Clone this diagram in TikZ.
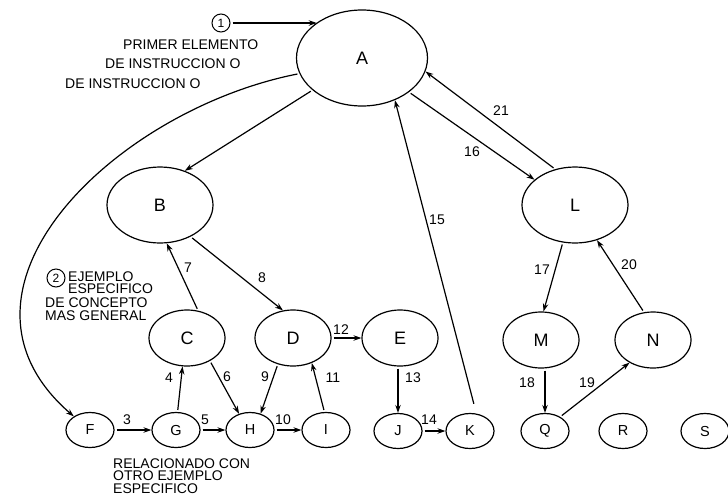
\documentclass[tikz,border=0pt]{standalone}
\usepackage{fontspec}
\setmainfont{Liberation Sans}
\usetikzlibrary{shapes.geometric,arrows.meta}
\begin{document}
\begin{tikzpicture}[x=1pt,y=-1pt,
  every node/.style={font=\fontsize{14}{14}\selectfont, inner sep=0pt},
  concept/.style={ellipse, draw, line width=1.2pt, font=\fontsize{18}{18}\selectfont},
  large/.style={concept, minimum width=131pt, minimum height=96pt},
  medium/.style={concept, minimum width=106pt, minimum height=76pt},
  small/.style={concept, minimum width=76pt, minimum height=56pt},
  leaf/.style={concept, minimum width=48pt, minimum height=35pt, font=\fontsize{14.5}{14.5}\selectfont},
  marker/.style={circle, draw, line width=1pt, minimum size=18pt, font=\fontsize{12}{12}\selectfont},
  note/.style={anchor=base west},
  link/.style={line width=1.2pt, -{Stealth[length=8pt,width=5.5pt]}, shorten <=2pt},
]
\useasboundingbox (0,0) rectangle (728,496);
\fill[white] (0,0) rectangle (728,496);

% concepts
\node[large]  (A) at (362,58)  {A};
\node[medium] (B) at (160,205) {B};
\node[medium] (L) at (575,205) {L};
\node[small]  (C) at (187,338) {C};
\node[small]  (D) at (293,338) {D};
\node[small]  (E) at (400,338) {E};
\node[small]  (M) at (541,340) {M};
\node[small]  (N) at (653,340) {N};
\node[leaf] (F) at (90,430)  {F};
\node[leaf] (G) at (176,430) {G};
\node[leaf] (H) at (250,430) {H};
\node[leaf] (I) at (326,430) {I};
\node[leaf] (J) at (398,431) {J};
\node[leaf] (K) at (470,431) {K};
\node[leaf] (Q) at (545,431) {Q};
\node[leaf] (R) at (623,431) {R};
\node[leaf] (S) at (705,431) {S};

% annotations
\node[marker] (m1) at (221,23) {1};
\node[note] (t1) at (123,49) {PRIMER ELEMENTO};
\node[note] (t2) at (105,68.5) {DE INSTRUCCION O};
\node[note] (t3) at (65,88) {DE INSTRUCCION O};

\node[marker] (m2) at (56,278) {2};
\node[note] (u1) at (68,281) {EJEMPLO};
\node[note] (u2) at (68,293.5) {ESPECIFICO};
\node[note] (u3) at (45,307) {DE CONCEPTO};
\node[note] (u4) at (45,320) {MAS GENERAL};

\node[note] (v1) at (113,468) {RELACIONADO CON};
\node[note] (v2) at (113,480.5) {OTRO EJEMPLO};
\node[note] (v3) at (113,493) {ESPECIFICO};

% connectors
\draw[link] (m1) -- (m1 -| A.142);
\draw[link] (A.194) .. controls (115,110) and (-72,290) .. (F.140);
\draw[link] (A.213) -- (B.54);
\draw[link] (C.68) -- (B.280);
\draw[link] (B.-46) -- (D.110);
\draw[link] (G.85) -- (C.261);
\draw[link] (C.-45) -- (H.124);
\draw[link] (D.240) -- (H.57);
\draw[link] (I.95) -- (D.307);
\draw[link] (D.east) -- (E.west);
\draw[link] (E.south -| J.north) -- (J.north);
\draw[link] (F.east) -- (G.west);
\draw[link] (G.east) -- (H.west);
\draw[link] (H.east) -- (I.west);
\draw[link] (J.east) -- (K.west);
\draw[link, shorten <=10pt] (K.70) -- (A.-52);
\draw[link] (A.-36) -- (L.148);
\draw[link] (L.119) -- (A.-12);
\draw[link] (L.252) -- (M.85);
\draw[link] (N.108) -- (L.-58);
\draw[link] (M.south -| Q.north) -- (Q.north);
\draw[link] (Q.43) -- (N.224);

% connector numbers
\node (n3)  at (127,420) {3};
\node (n4)  at (169,378) {4};
\node (n5)  at (205,420) {5};
\node (n6)  at (227,377) {6};
\node (n7)  at (188,268) {7};
\node (n8)  at (262,278) {8};
\node (n9)  at (265,377) {9};
\node (n10) at (283,420) {10};
\node (n11) at (333,378) {11};
\node (n12) at (341,330) {12};
\node (n13) at (413,378) {13};
\node (n14) at (429,420) {14};
\node (n15) at (437,220) {15};
\node (n16) at (472,152) {16};
\node (n17) at (542,270) {17};
\node (n18) at (527,383) {18};
\node (n19) at (587,383) {19};
\node (n20) at (629,265) {20};
\node (n21) at (501,111) {21};
\end{tikzpicture}
\end{document}
